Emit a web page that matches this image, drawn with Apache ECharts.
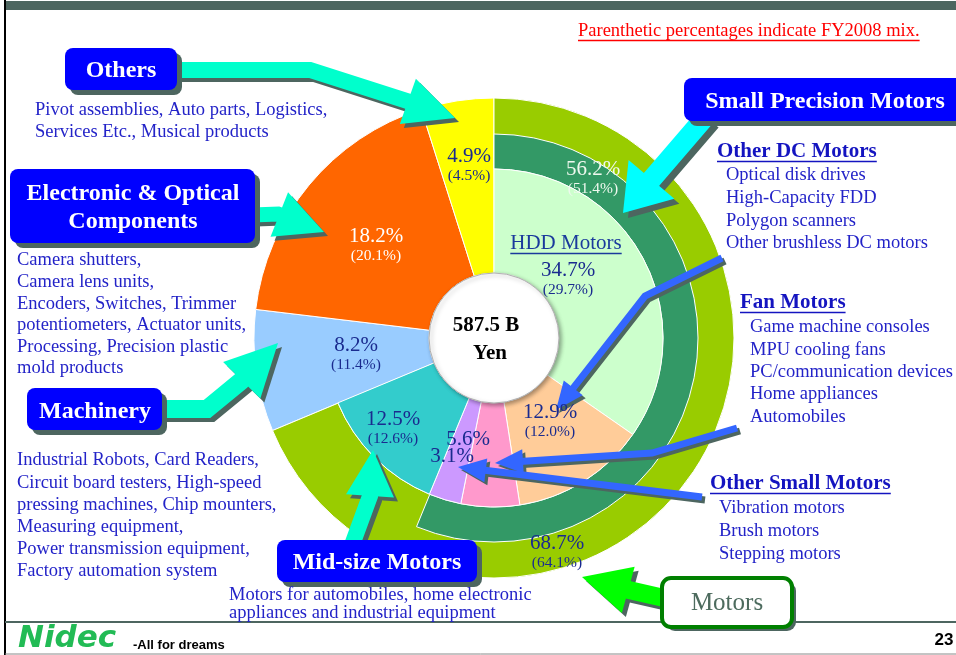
<!DOCTYPE html>
<html>
<head>
<meta charset="utf-8">
<script src="https://cdn.jsdelivr.net/npm/echarts@6/dist/echarts.min.js"></script>
<style>
html,body{margin:0;padding:0;background:#fff}
#main{width:956px;height:655px}
</style>
</head>
<body>
<div id="main"></div>
<script>
// business segments, share of sales (%) and FY2008 mix (%)
var segNames = ['Small Precision Motors', 'Mid-size Motors', 'Machinery', 'Electronic & Optical Components', 'Others'];
var segShare = [56.2, 12.5, 8.2, 18.2, 4.9];
var segPrev  = [51.4, 12.6, 11.4, 20.1, 4.5];
// motors = small precision + mid-size
var motorShare = 68.7, motorPrev = 64.1;
// breakdown of small precision motors
var spmNames = ['HDD Motors', 'Other DC Motors', 'Fan Motors', 'Other Small Motors'];
var spmShare = [34.7, 12.9, 5.6, 3.1];
var spmPrev  = [29.7, 12.0, null, null];
var totalText = ['587.5 B', 'Yen'];

var SERIF = '"Liberation Serif", "Times New Roman", serif';
var NAVY = '#1a2b8f', BLUE = '#2323c8', SHADOW = '#4d6660';
var segColors = ['#339966', '#33cccc', '#99ccff', '#ff6600', '#ffff00'];
var spmColors = ['#ccffcc', '#ffcc99', '#ff99cc', '#cc99ff'];

var chart = echarts.init(document.getElementById('main'));
var C = [494, 338];

function item(name, v, color) {
  if (!color) return {name: name, value: v, itemStyle: {color: 'transparent', borderWidth: 0}};
  return {name: name, value: v, itemStyle: {color: color}};
}
function ring(r, data, z) {
  return {
    type: 'pie', center: C, radius: r, startAngle: 90, clockwise: true,
    label: {show: false}, labelLine: {show: false}, silent: true, z: z,
    emphasis: {disabled: true}, animation: false,
    itemStyle: {borderColor: '#fff', borderWidth: 1},
    data: data
  };
}

// outer segments (machinery, electronic, others) full radius
var sA = segNames.map(function (n, i) { return item(n, segShare[i], i >= 2 ? segColors[i] : null); });
// motors ring
var sB = [item('Motors', motorShare, '#99cc00')].concat(segNames.slice(2).map(function (n, i) { return item(n, segShare[i + 2]); }));
// small precision ring
var sC = segNames.map(function (n, i) { return item(n, segShare[i], i === 0 ? segColors[0] : null); });
// inner pie
var sD = spmNames.map(function (n, i) { return item(n, spmShare[i], spmColors[i]); })
  .concat([item(segNames[1], segShare[1], segColors[1])])
  .concat(segNames.slice(2).map(function (n, i) { return item(n, segShare[i + 2]); }));

var hole = ring([0, 65], [{name: 'total', value: 1, itemStyle: {color: '#fff', borderColor: '#b0b0b0', borderWidth: 1, shadowBlur: 4, shadowOffsetX: 2, shadowOffsetY: 2, shadowColor: 'rgba(0,0,0,0.35)'}}], 6);

// ---- helpers for the annotation drawing
var meas = document.createElement('canvas').getContext('2d');
function tw(s, font) { meas.font = font; return meas.measureText(s).width; }

function txt(x, y, s, o) {
  return {
    type: 'text', x: x, y: y + 1.5, silent: true, z: 100,
    style: Object.assign({text: s, fill: BLUE, fontSize: 18.5, fontFamily: SERIF, align: 'left', verticalAlign: 'middle'}, o || {})
  };
}
function uline(x, y, s, size, weight, color, align) {
  var w = tw(s, (weight || 'normal') + ' ' + size + 'px ' + SERIF);
  var x0 = align === 'center' ? x - w / 2 : x;
  return {type: 'line', silent: true, z: 100, shape: {x1: x0, y1: y + 1.5, x2: x0 + w, y2: y + 1.5}, style: {stroke: color, lineWidth: 1.5}};
}
function box(x, y, w, h, lines, cx, cy) {
  var out = [
    {type: 'rect', silent: true, z: 60, shape: {x: x + 5, y: y + 5, width: w, height: h, r: 8}, style: {fill: SHADOW}},
    {type: 'rect', silent: true, z: 61, shape: {x: x, y: y, width: w, height: h, r: 8}, style: {fill: '#0000ff'}}
  ];
  lines.forEach(function (s, i) {
    out.push(txt(cx, cy + i * 28, s, {fill: '#fff', fontSize: 24, fontWeight: 'bold', align: 'center'}));
  });
  return out;
}
function arrow(pts, w, hl, hw, color, off) {
  var n = pts.length, tip = pts[n - 1], prev = pts[n - 2];
  var dx = tip[0] - prev[0], dy = tip[1] - prev[1], d = Math.sqrt(dx * dx + dy * dy);
  var ux = dx / d, uy = dy / d;
  var bx = tip[0] - ux * hl, by = tip[1] - uy * hl;
  var head = [[tip[0], tip[1]], [bx - uy * hw, by + ux * hw], [bx + uy * hw, by - ux * hw]];
  var stem = pts.slice(0, n - 1).concat([[bx + ux * 3, by + uy * 3]]);
  var out = [];
  off = off || 4;
  [[off, off, SHADOW, 50], [0, 0, color, 51]].forEach(function (s) {
    out.push({type: 'polyline', x: s[0], y: s[1], silent: true, z: s[3], shape: {points: stem}, style: {stroke: s[2], lineWidth: w, fill: null, lineJoin: 'miter'}});
    out.push({type: 'polygon', x: s[0], y: s[1], silent: true, z: s[3], shape: {points: head}, style: {fill: s[2]}});
  });
  return out;
}
function pct(v) { return v.toFixed(1) + '%'; }
function par(v) { return '(' + v.toFixed(1) + '%)'; }

var g = [];
// frame
g.push({type: 'rect', silent: true, shape: {x: 6, y: 1, width: 950, height: 9}, style: {fill: '#4d6660'}});
g.push({type: 'line', silent: true, shape: {x1: 5, y1: 0, x2: 5, y2: 655}, style: {stroke: '#000', lineWidth: 2}});
g.push({type: 'line', silent: true, shape: {x1: 5, y1: 622, x2: 956, y2: 622}, style: {stroke: '#4d6660', lineWidth: 2}});
g.push({type: 'line', silent: true, shape: {x1: 5, y1: 654, x2: 956, y2: 654}, style: {stroke: '#888', lineWidth: 1}});

// note
var note = 'Parenthetic percentages indicate FY2008 mix.';
g.push(txt(578, 30, note, {fill: '#ff0000', fontSize: 18.5}));
g.push(uline(578, 39, note, 18.5, 'normal', '#ff0000'));

// arrows
g = g.concat(arrow([[177, 70], [310, 70], [407, 101], [455, 118]], 16, 50, 24, '#00ffcc', 4));
g = g.concat(arrow([[252, 215], [278, 214], [324, 232]], 15, 48, 24, '#00ffcc', 4));
g = g.concat(arrow([[160, 409], [207, 409], [241, 381], [278, 343]], 18, 52, 26, '#00ffcc', 4));
g = g.concat(arrow([[352, 545], [370, 496], [373, 450]], 16, 46, 24, '#00ffcc', 4));
g = g.concat(arrow([[706, 116], [651, 180], [623, 213]], 20, 44, 30, '#00ffff', 5));
g = g.concat(arrow([[722, 258], [645, 296], [556, 410]], 7, 28, 12, '#3366ff', 3));
g = g.concat(arrow([[737, 428], [652, 453], [495, 463]], 7, 28, 12, '#3366ff', 3));
g = g.concat(arrow([[702, 497], [458, 467]], 7, 28, 12, '#3366ff', 3));
g = g.concat(arrow([[664, 598], [629, 590], [582, 577]], 18, 48, 24, '#00ff00', 4));

// boxes
g = g.concat(box(65, 48, 112, 42, ['Others'], 121, 69));
g = g.concat(box(10, 169, 245, 74, ['Electronic & Optical', 'Components'], 133, 192));
g = g.concat(box(27, 388, 135, 42, ['Machinery'], 95, 410));
g = g.concat(box(277, 540, 200, 42, ['Mid-size Motors'], 377, 561));
g = g.concat(box(684, 78, 285, 43, ['Small Precision Motors'], 825, 100));
g.push({type: 'rect', silent: true, z: 60, shape: {x: 666, y: 582, width: 130, height: 49, r: 9}, style: {fill: SHADOW}});
g.push({type: 'rect', silent: true, z: 61, shape: {x: 662, y: 578, width: 130, height: 49, r: 9}, style: {fill: '#fff', stroke: '#008000', lineWidth: 4}});
g.push(txt(727, 602, 'Motors', {fill: '#4d6b5e', fontSize: 25, align: 'center'}));

// description lists
function list(x, y0, step, lines) { lines.forEach(function (s, i) { g.push(txt(x, y0 + i * step, s)); }); }
list(35, 109, 22, ['Pivot assemblies, Auto parts, Logistics,', 'Services Etc., Musical products']);
list(17, 259, 21.6, ['Camera shutters,', 'Camera lens units,', 'Encoders, Switches, Trimmer', 'potentiometers, Actuator units,', 'Processing, Precision plastic', 'mold products']);
list(17, 459, 22.2, ['Industrial Robots, Card Readers,', 'Circuit board testers, High-speed', 'pressing machines, Chip mounters,', 'Measuring equipment,', 'Power transmission equipment,', 'Factory automation system']);
list(229, 594, 17.5, ['Motors for automobiles, home electronic', 'appliances and industrial equipment']);

function heading(x, y, s) {
  g.push(txt(x, y, s, {fontSize: 21, fontWeight: 'bold', fill: '#1414c0'}));
  g.push(uline(x, y + 10, s, 21, 'bold', '#1414c0'));
}
heading(717, 150, spmNames[1]);
list(726, 174, 22.7, ['Optical disk drives', 'High-Capacity FDD', 'Polygon scanners', 'Other brushless DC motors']);
heading(740, 301, spmNames[2]);
list(750, 326, 22.3, ['Game machine consoles', 'MPU cooling fans', 'PC/communication devices', 'Home appliances', 'Automobiles']);
heading(710, 482, spmNames[3]);
list(719, 507, 23, ['Vibration motors', 'Brush motors', 'Stepping motors']);

// values on the pie
function val(x, y, v, p, col) {
  g.push(txt(x, y, pct(v), {fill: col || NAVY, fontSize: 21, align: 'center'}));
  if (p != null) g.push(txt(x, y + 19, par(p), {fill: col || NAVY, fontSize: 15.5, align: 'center'}));
}
val(469, 155, segShare[4], segPrev[4]);
val(376, 235, segShare[3], segPrev[3], '#ffffff');
val(356, 344, segShare[2], segPrev[2]);
val(393, 418, segShare[1], segPrev[1]);
val(593, 168, segShare[0], segPrev[0], '#eef8ee');
g.push(txt(566, 242, spmNames[0], {fill: '#1a3a9c', fontSize: 21, align: 'center'}));
g.push(uline(566, 252, spmNames[0], 21, 'normal', '#1a3a9c', 'center'));
val(568, 269, spmShare[0], spmPrev[0]);
val(550, 411, spmShare[1], spmPrev[1]);
val(468, 438, spmShare[2], spmPrev[2]);
val(452, 455, spmShare[3], spmPrev[3]);
val(557, 542, motorShare, motorPrev);
g.push(txt(486, 324, totalText[0], {fill: '#000', fontSize: 21, fontWeight: 'bold', align: 'center'}));
g.push(txt(490, 352, totalText[1], {fill: '#000', fontSize: 21, fontWeight: 'bold', align: 'center'}));

// footer
g.push(txt(18, 637, 'Nidec', {fill: '#22bb55', fontSize: 31, fontWeight: 'bold', fontStyle: 'italic', fontFamily: '"DejaVu Sans", sans-serif'}));
g.push(txt(133, 644, '-All for dreams', {fill: '#000', fontSize: 13, fontWeight: 'bold', fontFamily: '"Liberation Sans", Arial, sans-serif'}));
g.push(txt(944, 639, '23', {fill: '#000', fontSize: 17, fontWeight: 'bold', align: 'center', fontFamily: '"Liberation Sans", Arial, sans-serif'}));

chart.setOption({
  animation: false,
  backgroundColor: '#fff',
  series: [
    ring([65, 240], sA, 2),
    ring([169, 240], sB, 3),
    ring([169, 204], sC, 4),
    ring([65, 169], sD, 5),
    hole
  ],
  graphic: {elements: g}
});
</script>
</body>
</html>
